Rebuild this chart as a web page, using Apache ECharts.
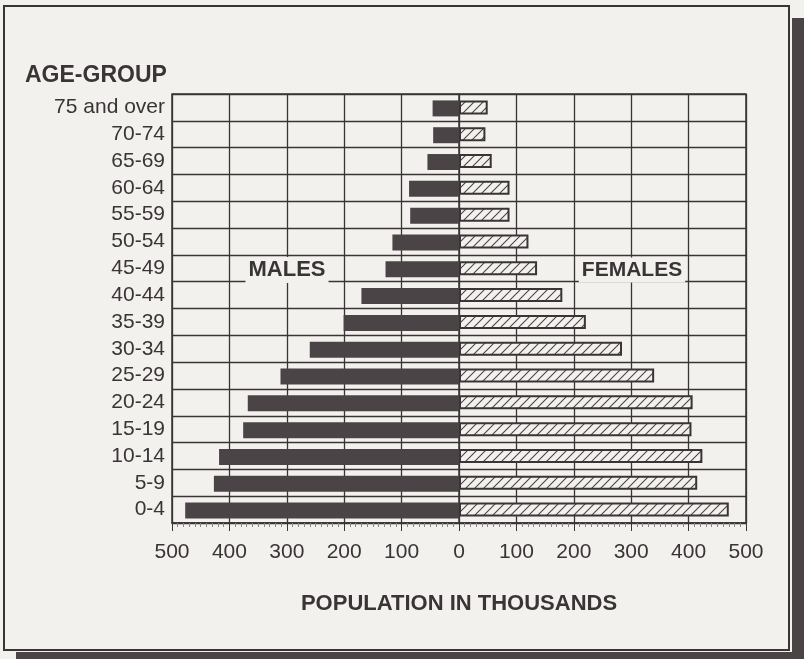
<!DOCTYPE html>
<html lang="en">
<head>
    <meta charset="UTF-8">
    <title>Population by Age Group</title>
    <script src="https://cdn.jsdelivr.net/npm/echarts@6/dist/echarts.min.js"></script>
    <style>
        body, html {
            margin: 0;
            padding: 0;
            background-color: #f3f1ee;
        }
        #chart {
            width: 804px;
            height: 659px;
        }
    </style>
</head>
<body>
    <div id="chart"></div>

    <script>
        // bottom to top, as the category axis draws them
        const ageGroups = ['0-4', '5-9', '10-14', '15-19', '20-24', '25-29', '30-34', '35-39',
            '40-44', '45-49', '50-54', '55-59', '60-64', '65-69', '70-74', '75 and over'];
        const males = [477, 427, 418, 376, 368, 311, 260, 201, 170, 128, 116, 85, 87, 55, 45, 46];
        const females = [470, 415, 424, 405, 407, 340, 284, 221, 180, 136, 121, 88, 88, 57, 46, 50];
        const xTicks = [-500, 500, 100]; // min, max, interval

        const ink = '#3a3436';
        const barDark = '#4a4446';
        const font = '"Liberation Sans", Arial, sans-serif';

        function hatchPattern() {
            const c = document.createElement('canvas');
            c.width = 9;
            c.height = 9;
            const ctx = c.getContext('2d');
            ctx.fillStyle = '#f3f1ee';
            ctx.fillRect(0, 0, 9, 9);
            ctx.strokeStyle = barDark;
            ctx.lineWidth = 1.1;
            ctx.beginPath();
            ctx.moveTo(0, 9); ctx.lineTo(9, 0);
            ctx.moveTo(-2, 2); ctx.lineTo(2, -2);
            ctx.moveTo(7, 11); ctx.lineTo(11, 7);
            ctx.stroke();
            return c;
        }

        const chart = echarts.init(document.getElementById('chart'));

        const option = {
            backgroundColor: '#f3f1ee',
            animation: false,
            textStyle: { fontFamily: font, color: ink },
            grid: {
                left: 172,
                right: 58,
                top: 94,
                bottom: 136,
                show: true,
                borderColor: ink,
                borderWidth: 1.5
            },
            xAxis: {
                type: 'value',
                min: xTicks[0],
                max: xTicks[1],
                interval: xTicks[2],
                axisLine: { show: true, lineStyle: { color: ink, width: 1.5 } },
                axisTick: { show: true, length: 8, lineStyle: { color: ink } },
                minorTick: { show: true, splitNumber: 10, length: 4, lineStyle: { color: '#8a8486' } },
                axisLabel: {
                    formatter: v => Math.abs(v),
                    fontSize: 21,
                    color: ink,
                    margin: 19
                },
                splitLine: { show: true, lineStyle: { color: ink, width: 1.3 } },
                name: 'POPULATION IN THOUSANDS',
                nameLocation: 'middle',
                nameGap: 70,
                nameTextStyle: { fontSize: 22, fontWeight: 'bold', color: ink }
            },
            yAxis: {
                type: 'category',
                data: ageGroups,
                axisLine: { show: true, lineStyle: { color: ink, width: 1.5 } },
                axisTick: { show: false },
                axisLabel: { fontSize: 21, color: ink, margin: 7, interval: 0 },
                splitLine: { show: true, interval: 0, lineStyle: { color: ink, width: 1.3 } }
            },
            title: {
                text: 'AGE-GROUP',
                left: 20,
                top: 59,
                textStyle: { fontFamily: font, fontSize: 23, fontWeight: 'bold', color: ink }
            },
            series: [
                {
                    name: 'Males',
                    type: 'bar',
                    data: males.map(v => -v),
                    barWidth: 16,
                    barGap: '-100%',
                    itemStyle: { color: barDark }
                },
                {
                    name: 'Females',
                    type: 'bar',
                    data: females,
                    barWidth: 14,
                    itemStyle: {
                        color: { image: hatchPattern(), repeat: 'repeat' },
                        borderColor: ink,
                        borderWidth: 2
                    }
                }
            ],
            graphic: [
                {
                    type: 'rect',
                    z: -10,
                    shape: { x: 792, y: 18, width: 12, height: 641 },
                    style: { fill: barDark }
                },
                {
                    type: 'rect',
                    z: -10,
                    shape: { x: 16, y: 652, width: 788, height: 7 },
                    style: { fill: barDark }
                },
                {
                    type: 'rect',
                    z: -10,
                    shape: { x: 4, y: 6, width: 785, height: 644 },
                    style: { fill: '#f3f1ee', stroke: ink, lineWidth: 2 }
                },
                {
                    type: 'text',
                    z: 100,
                    x: 287,
                    y: 270,
                    style: {
                        text: 'MALES',
                        font: 'bold 22px ' + font,
                        fill: ink,
                        align: 'center',
                        verticalAlign: 'middle',
                        backgroundColor: '#f3f1ee',
                        padding: [2, 3]
                    }
                },
                {
                    type: 'text',
                    z: 100,
                    x: 632,
                    y: 270,
                    style: {
                        text: 'FEMALES',
                        font: 'bold 21px ' + font,
                        fill: ink,
                        align: 'center',
                        verticalAlign: 'middle',
                        backgroundColor: '#f3f1ee',
                        padding: [2, 3]
                    }
                }
            ]
        };

        chart.setOption(option);
    </script>
</body>
</html>
